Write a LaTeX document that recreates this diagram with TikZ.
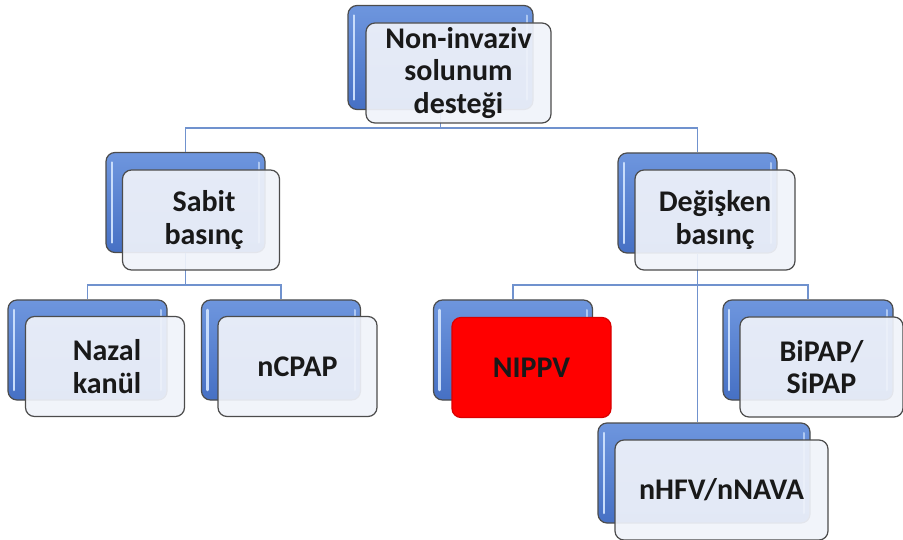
\documentclass[tikz,border=0pt]{standalone}
\usepackage{fontspec}
\setmainfont{Carlito}
\usetikzlibrary{calc}

\begin{document}
\begin{tikzpicture}[x=1pt,y=-1pt,
backbox/.style={draw=black!70,line width=1.2pt,rounded corners=9pt,
  top color=boxtop,bottom color=boxbottom,minimum width=#1,minimum height=100pt,
  inner sep=0pt,
  path picture={
    \draw[line width=2.5pt,line cap=round,shine]
      ([xshift=6pt,yshift=-10pt]path picture bounding box.north west) --
      ([xshift=6pt,yshift=10pt]path picture bounding box.south west);
    \draw[line width=2pt,line cap=round,shine!70!boxtop]
      ([xshift=-6pt,yshift=-10pt]path picture bounding box.north east) --
      ([xshift=-6pt,yshift=10pt]path picture bounding box.south east);}},
backbox/.default=159pt,
frontbox/.style={draw=black!70,line width=1.2pt,rounded corners=9pt,
  fill=boxwhite,fill opacity=0.92,text opacity=1,text=black!90,
  minimum width=#1,minimum height=100pt,inner sep=0pt,align=center,
  font=\bfseries\fontsize{30}{32.5}\selectfont},
frontbox/.default=159pt,
hotbox/.style={frontbox,fill=red,fill opacity=1,draw=red!85!black},
connector/.style={line width=1.8pt,linkblue}]

\definecolor{boxtop}{RGB}{110,150,222}
\definecolor{boxbottom}{RGB}{70,112,196}
\definecolor{shine}{RGB}{200,220,250}
\definecolor{boxwhite}{RGB}{240,243,250}
\definecolor{linkblue}{RGB}{112,146,206}

\useasboundingbox (0,0) rectangle (903,540);

% back boxes
\node[backbox=185pt,minimum height=104pt] (rootb) at (440.5,57.5) {};
\node[backbox] (sabitb) at (185.5,202.5) {};
\node[backbox] (degb) at (697.5,203) {};
\node[backbox] (nazalb) at (87.5,350) {};
\node[backbox] (ncpapb) at (281,350) {};
\node[backbox] (nippvb) at (513,350) {};
\node[backbox=170pt] (bipapb) at (808,350) {};
\node[backbox=212pt] (hfvb) at (704,473) {};

% connectors
\coordinate (bus0) at (0,128);
\coordinate (bus1) at (0,285);
\draw[connector] (rootb.south) -- (rootb.south |- bus0);
\draw[connector] (sabitb.north) |- (degb.north |- bus0) -- (degb.north);
\draw[connector] (sabitb.south) -- (sabitb.south |- bus1);
\draw[connector] (nazalb.north) |- (ncpapb.north |- bus1) -- (ncpapb.north);
\draw[connector] (nippvb.north) |- (bipapb.north |- bus1) -- (bipapb.north);
\draw[connector] (degb.south) -- (degb.south |- hfvb.north);

% front boxes
\node[frontbox=185pt] (root) at (458.5,73) {Non-invaziv\\solunum\\desteği};
\node[frontbox=157pt] (sabit) at (201,220) {\hspace{6pt}Sabit\\\hspace{6pt}basınç};
\node[frontbox=160pt] (deg) at (715,220) {Değişken\\basınç};
\node[frontbox] (nazal) at (105,366.5) {\hspace{4pt}Nazal\\\hspace{4pt}kanül};
\node[frontbox] (ncpap) at (297.5,366.5) {nCPAP};
\node[hotbox] (nippv) at (531.5,367.5) {NIPPV};
\node[frontbox=163pt] (bipap) at (821.5,367) {BiPAP/\\SiPAP};
\node[frontbox=213pt] (hfv) at (721.5,490) {nHFV/nNAVA};
\end{tikzpicture}
\end{document}
